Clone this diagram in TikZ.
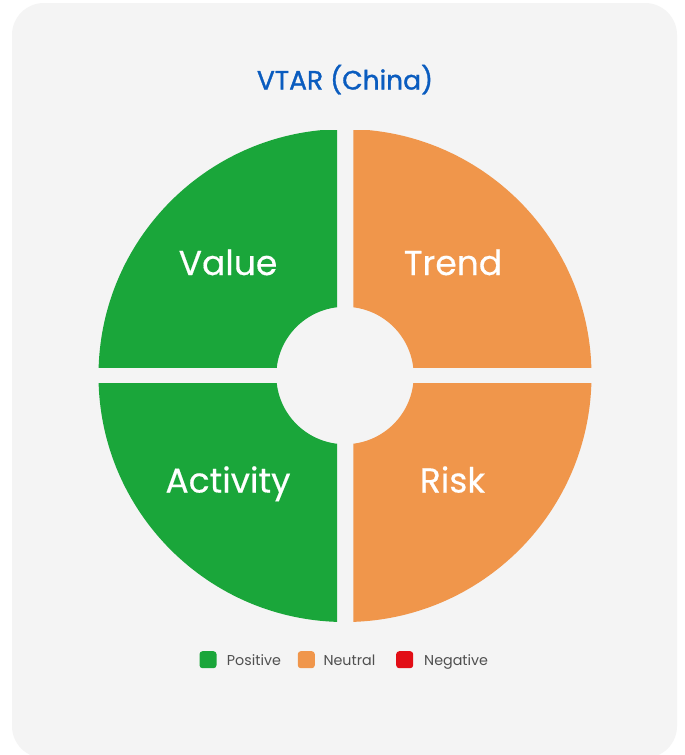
\documentclass[tikz,border=0pt]{standalone}
\usepackage{fontspec}
\setmainfont{Poppins}
\newfontfamily\titlefont{Poppins}[FakeBold=1.2]
\newfontfamily\labelfont{Poppins}[FakeBold=0.4]
\definecolor{bggray}{HTML}{F4F4F4}
\definecolor{posgreen}{HTML}{1AA63A}
\definecolor{neuorange}{HTML}{F0964B}
\definecolor{negred}{HTML}{E20E16}
\definecolor{titleblue}{HTML}{0A5CBF}
\definecolor{legtext}{HTML}{505050}
\tikzset{
  seglabel/.style={text=white, font=\labelfont\fontsize{34.5}{40}\selectfont, inner sep=0pt, anchor=base},
  legsq/.style={rounded corners=3pt, minimum size=17pt, inner sep=0pt},
  legtxt/.style={text=legtext, font=\fontsize{14.3}{16}\selectfont, inner sep=0pt, anchor=base west}
}
\begin{document}
\begin{tikzpicture}[x=1pt,y=-1pt]
\useasboundingbox (0,0) rectangle (685,755);
\fill[white] (0,0) rectangle (685,755);
\fill[bggray, rounded corners=32pt] (12,3) rectangle (677,758);
\node[text=titleblue, font=\titlefont\fontsize{26.5}{30}\selectfont, inner sep=0pt, anchor=base] (title) at (345,89.5) {VTAR (China)};
\coordinate (c) at (345,375.5);
% quadrants
\begin{scope}
\clip (337,130) rectangle (90,367);
\fill[posgreen, even odd rule] (c) circle (246.5) (c) circle (68.7);
\end{scope}
\begin{scope}
\clip (353.3,130) rectangle (600,367);
\fill[neuorange, even odd rule] (c) circle (246.5) (c) circle (68.7);
\end{scope}
\begin{scope}
\clip (337,383.5) rectangle (90,630);
\fill[posgreen, even odd rule] (c) circle (246.5) (c) circle (68.7);
\end{scope}
\begin{scope}
\clip (353.3,383.5) rectangle (600,630);
\fill[neuorange, even odd rule] (c) circle (246.5) (c) circle (68.7);
\end{scope}
\node[seglabel] (value) at (228,275) {Value};
\node[seglabel] (trend) at (453,275) {Trend};
\node[seglabel] (activity) at (228,492.5) {Activity};
\node[seglabel] (risk) at (452.5,492.5) {Risk};
% legend
\node[legsq, fill=posgreen] (sqpos) at (208,659.7) {};
\node[legtxt] (tpos) at (226.7,665.5) {Positive};
\node[legsq, fill=neuorange] (sqneu) at (306.3,659.7) {};
\node[legtxt] (tneu) at (323.3,665.5) {Neutral};
\node[legsq, fill=negred] (sqneg) at (404.7,659.7) {};
\node[legtxt] (tneg) at (424,665.5) {Negative};
\end{tikzpicture}
\end{document}
